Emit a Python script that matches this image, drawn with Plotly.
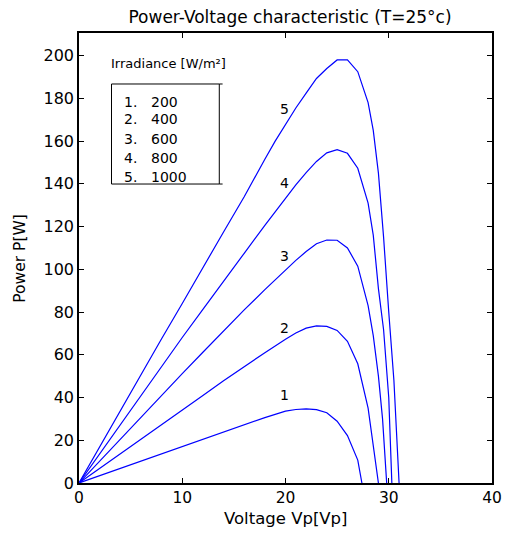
import plotly.graph_objects as go

# ---- data ----
irradiance = [200, 400, 600, 800, 1000]

v_200 = [0, 2, 4, 6, 8, 10, 12, 14, 16, 18, 20, 21, 22, 23, 24, 25, 26, 27, 27.4]
p_200 = [0, 3.4, 6.9, 10.3, 13.7, 17.1, 20.5, 24.0, 27.3, 30.6, 33.6, 34.4, 34.7, 34.3, 32.9, 28.9, 22.2, 10.7, 0]

v_400 = [0, 2, 4, 6, 8, 10, 12, 14, 16, 18, 20, 21, 22, 23, 24, 25, 26, 27, 28, 28.5, 29.0]
p_400 = [0, 6.9, 13.7, 20.6, 27.4, 34.2, 41.0, 47.8, 54.5, 61.0, 67.3, 70.2, 72.5, 73.5, 73.3, 71.4, 66.3, 55.8, 35.0, 17.0, 0]

v_600 = [0, 2, 4, 6, 8, 10, 12, 14, 16, 18, 20, 21, 22, 23, 24, 25, 26, 27, 28, 28.5, 29, 29.4, 29.8]
p_600 = [0, 10.3, 20.6, 30.8, 41.0, 51.2, 61.2, 71.3, 81.0, 90.5, 99.8, 104.2, 108.3, 112.0, 113.7, 113.6, 110.0, 101.5, 83.0, 69.0, 50.0, 30.0, 0]

v_800 = [0, 2, 4, 6, 8, 10, 12, 14, 16, 18, 20, 21, 22, 23, 24, 25, 26, 27, 28, 28.5, 29, 29.5, 30, 30.3]
p_800 = [0, 13.7, 27.4, 41.0, 54.6, 68.1, 81.3, 94.6, 107.5, 120.6, 133.5, 139.5, 145.3, 150.5, 154.5, 156.0, 154.3, 147.3, 131.0, 116.0, 91.0, 71.7, 40.0, 0]

v_1000 = [0, 2, 4, 6, 8, 10, 12, 14, 16, 17, 18, 19, 20, 21, 22, 23, 24, 25, 26, 27, 28, 28.5, 29, 29.5, 30, 30.5, 31]
p_1000 = [0, 17.0, 34.0, 50.8, 67.5, 84.0, 101.0, 117.5, 134.0, 143.0, 151.5, 160.0, 168.0, 175.5, 182.5, 189.3, 194.0, 198.0, 198.0, 192.5, 178.0, 165.0, 145.0, 115.0, 80.0, 48.0, 0]

curves = [(v_200, p_200), (v_400, p_400), (v_600, p_600), (v_800, p_800), (v_1000, p_1000)]

x_ticks = [0, 10, 20, 30, 40]
y_ticks = [0, 20, 40, 60, 80, 100, 120, 140, 160, 180, 200]

# curve number label anchor points (data coords)
label_x = 19.9
label_y = [41.2, 72.5, 106.3, 140.4, 175.0]

FONT = "DejaVu Sans"
W, H = 505, 525  # page body has an 8px margin

fig = go.Figure()
for v, p in curves:
    fig.add_trace(go.Scatter(x=v, y=p, mode="lines",
                             line=dict(color="#0000ff", width=1.2),
                             showlegend=False, hoverinfo="skip"))

annotations = []
for i, ly in enumerate(label_y):
    annotations.append(dict(x=label_x, y=ly, xref="x", yref="y", text=str(i + 1),
                            showarrow=False, font=dict(family=FONT, size=14, color="black")))

# "legend" box content
annotations.append(dict(x=0.073, y=0.9333, xref="paper", yref="paper",
                        text="Irradiance [W/m²]", showarrow=False, xanchor="left", yanchor="middle",
                        font=dict(family=FONT, size=13, color="black")))
entry_y = [0.8473, 0.8082, 0.7644, 0.7229, 0.6807]
for i, (g, ey) in enumerate(zip(irradiance, entry_y)):
    annotations.append(dict(x=0.1035, y=ey, xref="paper", yref="paper", text=f"{i + 1}.",
                            showarrow=False, xanchor="left", yanchor="middle",
                            font=dict(family=FONT, size=14, color="black")))
    annotations.append(dict(x=0.1705, y=ey, xref="paper", yref="paper", text=str(g),
                            showarrow=False, xanchor="left", yanchor="middle",
                            font=dict(family=FONT, size=14, color="black")))

# axis titles
annotations.append(dict(x=0.5, y=-0.0778, xref="paper", yref="paper", text="Voltage Vp[Vp]",
                        showarrow=False, xanchor="center", yanchor="middle",
                        font=dict(family=FONT, size=16.5, color="black")))
annotations.append(dict(x=-0.1435, y=0.5, xref="paper", yref="paper", text="Power P[W]",
                        showarrow=False, xanchor="center", yanchor="middle", textangle=-90,
                        font=dict(family=FONT, size=15.5, color="black")))

bx0, bx1, by0, by1 = 0.0787, 0.3397, 0.6644, 0.8867
shapes = [
    dict(type="rect", xref="paper", yref="paper", x0=bx0, x1=bx1, y0=by0, y1=by1,
         line=dict(color="black", width=1), fillcolor="rgba(0,0,0,0)"),
    dict(type="line", xref="paper", yref="paper", x0=bx1, x1=bx1 + 0.008, y0=by1, y1=by1,
         line=dict(color="black", width=1)),
    dict(type="line", xref="paper", yref="paper", x0=bx1, x1=bx1 + 0.008, y0=by0, y1=by0,
         line=dict(color="black", width=1)),
]

fig.update_layout(
    width=W, height=H,
    margin=dict(l=71, r=11, t=25, b=50),
    paper_bgcolor="white", plot_bgcolor="white",
    title=dict(text="Power-Voltage characteristic (T=25°c)", x=(290 - 8) / W, xanchor="center",
               y=1 - 9.5 / H, yanchor="middle", yref="container",
               font=dict(family=FONT, size=17, color="black")),
    font=dict(family=FONT, color="black"),
    annotations=annotations,
    shapes=shapes,
)
fig.update_xaxes(range=[0, 40], tickvals=x_ticks, ticktext=[str(t) for t in x_ticks],
                 ticks="inside", ticklen=5, tickcolor="black", tickwidth=1,
                 showline=True, linecolor="black", linewidth=1.5, mirror="ticks",
                 showgrid=False, zeroline=False, tickfont=dict(family=FONT, size=15.5, color="black"))
fig.update_yaxes(range=[0, 210.6], tickvals=y_ticks, ticktext=[str(t) for t in y_ticks],
                 ticks="inside", ticklen=5, tickcolor="black", tickwidth=1,
                 showline=True, linecolor="black", linewidth=1.5, mirror="ticks",
                 showgrid=False, zeroline=False, tickfont=dict(family=FONT, size=16, color="black"))

fig.write_html("out.html")
